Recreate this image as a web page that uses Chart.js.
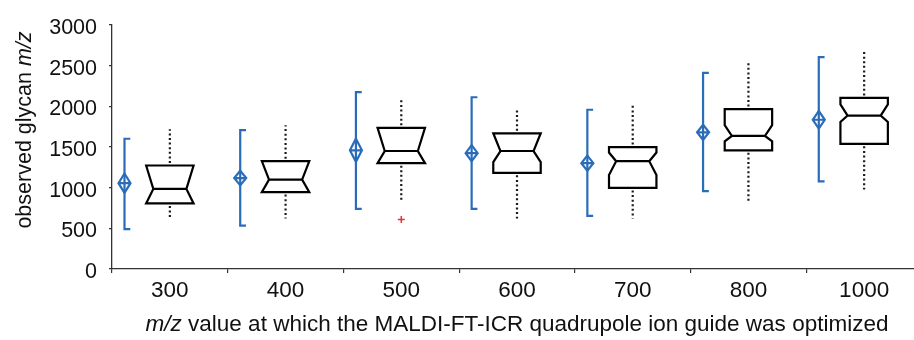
<!DOCTYPE html>
<html><head><meta charset="utf-8">
<script src="https://cdn.jsdelivr.net/npm/chart.js@4.4.1/dist/chart.umd.min.js"></script>
<style>
html,body{margin:0;padding:0;overflow:hidden;background:#fff;width:914px;height:340px;}
#wrap{width:924px;height:340px;}
canvas{display:block;}
</style></head><body>
<div id="wrap"><canvas id="c" width="924" height="340"></canvas></div>
<script>
// x categories: m/z at which the ion guide was optimized
const categories = ['300','400','500','600','700','800','1000'];
// notched box plots (black)
const whiskerLow  = [613, 620, 818, 620, 620, 818, 976];
const quartile1   = [806, 945, 1301, 1182, 996, 1459, 1538];
const median      = [984, 1099, 1450, 1450, 1325, 1636, 1885];
const quartile3   = [1272, 1325, 1735, 1668, 1498, 1965, 2102];
const whiskerHigh = [1719, 1767, 2102, 1972, 2012, 2546, 2684];
const notchLow    = [806, 945, 1301, 1313, 1154, 1569, 1806];
const notchHigh   = [1272, 1325, 1735, 1668, 1431, 1767, 2024];
const outliers    = [[], [], [608], [], [], [], []];
// mean diamonds with range bars (blue)
const meanValue   = [1055, 1118, 1459, 1423, 1301, 1680, 1834];
const meanHalfCI  = [119, 90, 142, 99, 93, 93, 109];
const rangeLow    = [490, 534, 739, 739, 652, 957, 1076];
const rangeHigh   = [1601, 1708, 2174, 2111, 1957, 2411, 2605];
// y axis ticks
const yMin = 0, yMax = 3000, yStep = 500;

const FONT = "'Liberation Sans', Arial, Helvetica, sans-serif";

const boxPlugin = {
  id: 'boxes',
  afterDatasetsDraw(chart) {
    const {ctx, scales: {x, y}} = chart;
    const cw = x.getPixelForValue(1) - x.getPixelForValue(0);
    ctx.save();
    categories.forEach((c, i) => {
      const cx = x.getPixelForValue(i);
      const hw = cw * 0.205, inset = cw * 0.062;
      const yq1 = y.getPixelForValue(quartile1[i]);
      const yq3 = y.getPixelForValue(quartile3[i]);
      const ym = y.getPixelForValue(median[i]);
      const ylo = y.getPixelForValue(whiskerLow[i]);
      const yhi = y.getPixelForValue(whiskerHigh[i]);
      const ynl = y.getPixelForValue(notchLow[i]);
      const ynh = y.getPixelForValue(notchHigh[i]);
      // dotted whiskers
      ctx.strokeStyle = '#1a1a1a';
      ctx.lineWidth = 2.2;
      ctx.lineCap = 'butt';
      ctx.setLineDash([2, 2.6]);
      ctx.beginPath();
      ctx.moveTo(cx, yq3 - 2.5); ctx.lineTo(cx, yhi);
      ctx.moveTo(cx, yq1 + 2.5); ctx.lineTo(cx, ylo);
      ctx.stroke();
      ctx.setLineDash([]);
      // notched box
      ctx.strokeStyle = '#000';
      ctx.lineWidth = 2.2;
      ctx.lineJoin = 'miter';
      ctx.beginPath();
      ctx.moveTo(cx - hw, yq3);
      ctx.lineTo(cx - hw, ynh);
      ctx.lineTo(cx - hw + inset, ym);
      ctx.lineTo(cx - hw, ynl);
      ctx.lineTo(cx - hw, yq1);
      ctx.lineTo(cx + hw, yq1);
      ctx.lineTo(cx + hw, ynl);
      ctx.lineTo(cx + hw - inset, ym);
      ctx.lineTo(cx + hw, ynh);
      ctx.lineTo(cx + hw, yq3);
      ctx.closePath();
      ctx.moveTo(cx - hw + inset, ym);
      ctx.lineTo(cx + hw - inset, ym);
      ctx.stroke();
      // outliers
      ctx.strokeStyle = '#e8322f';
      ctx.lineWidth = 1.5;
      outliers[i].forEach(v => {
        const oy = y.getPixelForValue(v);
        ctx.beginPath();
        ctx.moveTo(cx - 3.5, oy); ctx.lineTo(cx + 3.5, oy);
        ctx.moveTo(cx, oy - 3.5); ctx.lineTo(cx, oy + 3.5);
        ctx.stroke();
      });
      // blue range bar + mean diamond
      const bx = x.getPixelForValue(i - 0.392);
      const cap = cw * 0.05;
      const yrl = y.getPixelForValue(rangeLow[i]);
      const yrh = y.getPixelForValue(rangeHigh[i]);
      const ymean = y.getPixelForValue(meanValue[i]);
      const yd1 = y.getPixelForValue(meanValue[i] + meanHalfCI[i]);
      const yd2 = y.getPixelForValue(meanValue[i] - meanHalfCI[i]);
      const dw = 6;
      ctx.strokeStyle = '#2b6cb8';
      ctx.lineWidth = 2.2;
      ctx.beginPath();
      ctx.moveTo(bx + cap, yrh); ctx.lineTo(bx, yrh); ctx.lineTo(bx, yrl); ctx.lineTo(bx + cap, yrl);
      ctx.stroke();
      ctx.beginPath();
      ctx.moveTo(bx, yd1); ctx.lineTo(bx + dw, ymean); ctx.lineTo(bx, yd2); ctx.lineTo(bx - dw, ymean); ctx.closePath();
      ctx.moveTo(bx - dw, ymean); ctx.lineTo(bx + dw, ymean);
      ctx.stroke();
    });
    ctx.restore();
  }
};

const titlePlugin = {
  id: 'titles',
  afterDraw(chart) {
    const {ctx, chartArea} = chart;
    ctx.save();
    ctx.fillStyle = '#111';
    function drawParts(parts, size, cxp, cyp, rot) {
      const normal = size + 'px ' + FONT, italic = 'italic ' + size + 'px ' + FONT;
      ctx.save();
      ctx.translate(cxp, cyp);
      ctx.rotate(rot);
      ctx.textBaseline = 'middle';
      ctx.textAlign = 'left';
      let total = 0;
      parts.forEach(p => { ctx.font = p.i ? italic : normal; total += ctx.measureText(p.t).width; });
      let px = -total / 2;
      parts.forEach(p => { ctx.font = p.i ? italic : normal; ctx.fillText(p.t, px, 0); px += ctx.measureText(p.t).width; });
      ctx.restore();
    }
    drawParts([{t: 'm/z', i: true}, {t: ' value at which the MALDI-FT-ICR quadrupole ion guide was optimized'}],
      22.5, (chartArea.left + chartArea.right) / 2, 324.5, 0);
    drawParts([{t: 'observed glycan '}, {t: 'm/z', i: true}], 21.5, 25, 130, -Math.PI / 2);
    ctx.restore();
  }
};

new Chart(document.getElementById('c'), {
  type: 'line',
  data: {
    labels: categories,
    datasets: [{ data: median, showLine: false, pointRadius: 0, pointHoverRadius: 0 }]
  },
  options: {
    responsive: false,
    animation: false,
    devicePixelRatio: 1,
    layout: { padding: { top: 16, right: 2, left: 0, bottom: 0 } },
    plugins: { legend: { display: false }, tooltip: { enabled: false } },
    scales: {
      x: {
        type: 'category',
        offset: true,
        grid: { display: true, drawOnChartArea: false, offset: true, tickLength: 4, color: '#333', lineWidth: 1.2 },
        border: { display: true, color: '#333', width: 1.3 },
        ticks: { font: { family: FONT, size: 22.5 }, color: '#111', padding: 4.5, maxRotation: 0, autoSkip: false },
        afterFit(s) { s.height = 71; }
      },
      y: {
        min: yMin, max: yMax,
        grid: { display: true, drawOnChartArea: false, tickLength: 3, color: '#333', lineWidth: 1.2 },
        border: { display: true, color: '#333', width: 1.3 },
        ticks: { stepSize: yStep, font: { family: FONT, size: 21.5 }, color: '#111', padding: 12, labelOffset: 3,
                 callback: v => String(v) },
        afterFit(s) { s.width = 112; }
      }
    }
  },
  plugins: [boxPlugin, titlePlugin]
});
</script>
</body></html>
